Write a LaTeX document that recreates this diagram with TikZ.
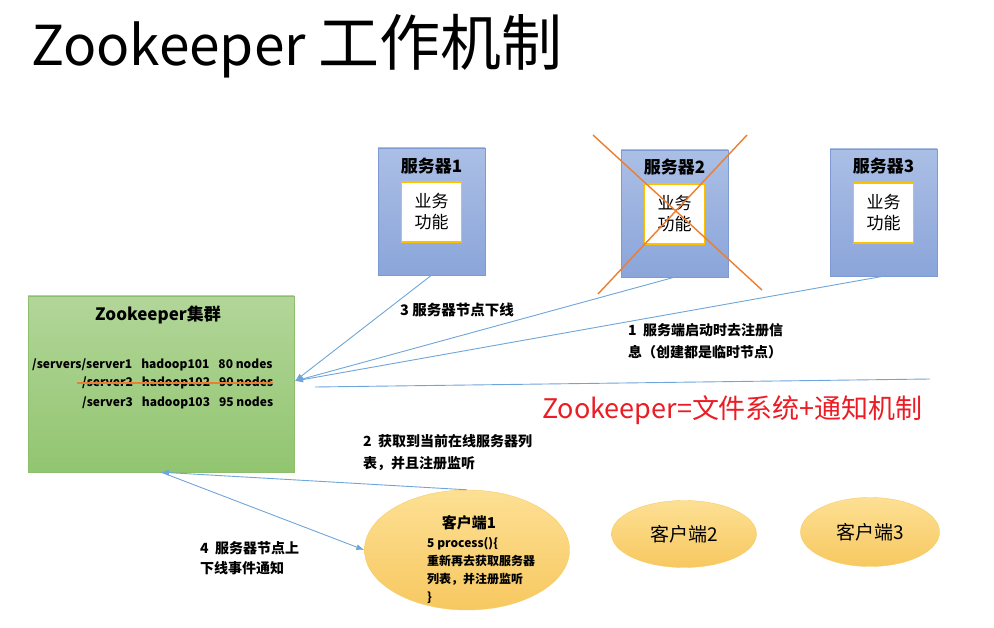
\documentclass[tikz,border=0pt]{standalone}
\usepackage{fontspec}
\setmainfont{Noto Sans CJK SC}
\usetikzlibrary{shapes.geometric,arrows.meta}
\definecolor{srvtop}{RGB}{171,191,229}
\definecolor{srvbot}{RGB}{139,165,218}
\definecolor{srvline}{RGB}{125,154,210}
\definecolor{bizline}{RGB}{255,192,0}
\definecolor{zktop}{RGB}{178,214,153}
\definecolor{zkbot}{RGB}{146,197,112}
\definecolor{zkline}{RGB}{140,190,110}
\definecolor{cltop}{RGB}{253,224,148}
\definecolor{clbot}{RGB}{247,200,96}
\definecolor{clline}{RGB}{247,204,100}
\definecolor{linkblue}{RGB}{110,165,218}
\definecolor{crossorange}{RGB}{237,125,49}
\definecolor{notered}{RGB}{235,28,36}
\begin{document}
\begin{tikzpicture}
[x=1pt,y=-1pt,
srv/.style={draw=srvline,top color=srvtop,bottom color=srvbot,minimum width=107pt,minimum height=127pt,inner sep=0pt},
srvtitle/.style={font=\bfseries\fontsize{17}{20}\selectfont,inner sep=0pt},
biz/.style={draw=bizline,line width=1.2pt,fill=white,minimum width=60pt,minimum height=60pt,inner sep=0pt,align=center,font=\fontsize{17}{21}\selectfont},
zkbox/.style={draw=zkline,top color=zktop,bottom color=zkbot,minimum width=266pt,minimum height=176pt,inner sep=0pt},
zkpath/.style={font=\bfseries\fontsize{12}{14}\selectfont,anchor=west,inner sep=0pt},
client/.style={ellipse,draw=clline,top color=cltop,bottom color=clbot,inner sep=0pt},
lbl/.style={font=\bfseries\fontsize{14}{22}\selectfont,align=left,anchor=west,inner sep=0pt},
link/.style={draw=linkblue,line width=0.9pt},
arr/.style={link,-{Latex[length=8pt,width=6pt]}},
cross/.style={draw=crossorange,line width=1.4pt}]
\useasboundingbox (0,0) rectangle (994,628);
\node[anchor=base west,inner sep=0pt,font=\fontsize{55}{60}\selectfont] (title) at (31,66) {Zookeeper {\fontsize{61}{64}\selectfont 工作机制}};

\node[zkbox] (zk) at (161,384) {};
\node[font=\bfseries\fontsize{17}{20}\selectfont] (zkt) at (158,315) {Zookeeper集群};
\node[zkpath] (zl1) at (32,365) {/servers/server1\hspace{9pt}hadoop101\hspace{9pt}80 nodes};
\node[zkpath] (zl2) at (82,383) {/server2\hspace{9pt}hadoop102\hspace{9pt}90 nodes};
\node[zkpath] (zl3) at (82,403) {/server3\hspace{9pt}hadoop103\hspace{9pt}95 nodes};
\draw[cross,line width=1.2pt] (77,383) -- (273,383);

\node[srv] (s1) at (431.5,211.5) {};
\node[srvtitle] (s1t) at (431.5,166) {服务器1};
\node[biz] (b1) at (431.5,212) {业务\\功能};
\node[srv] (s2) at (674.5,213.5) {};
\node[srvtitle] (s2t) at (674.5,167) {服务器2};
\node[biz] (b2) at (674.5,214) {业务\\功能};
\node[srv] (s3) at (883.5,212.5) {};
\node[srvtitle] (s3t) at (883.5,166) {服务器3};
\node[biz] (b3) at (883.5,213) {业务\\功能};
\draw[cross] (593,135) -- (762,290);
\draw[cross] (747,135) -- (598,294);

\node[client,minimum width=205pt,minimum height=120pt] (c1) at (467,550) {};
\node[font=\bfseries\fontsize{15}{18}\selectfont] (c1t) at (469,523) {客户端1};
\node[font=\bfseries\fontsize{12}{18}\selectfont,align=left,anchor=west,inner sep=0pt] (c1p) at (427,570.5) {5 process()\{\\重新再去获取服务器\\列表，并注册监听\\\}};
\node[client,minimum width=145pt,minimum height=67pt,font=\fontsize{19}{22}\selectfont] (c2) at (684,534) {客户端2};
\node[client,minimum width=139pt,minimum height=69pt,font=\fontsize{19}{22}\selectfont] (c3) at (870,532) {客户端3};

\coordinate (zin) at (295,381);
\coordinate (regl) at (315,387);
\coordinate (regr) at (930,379);
\draw[arr] (s1.south) -- (zin);
\draw[arr] (s2.south) -- (zin);
\draw[arr] (s3.south) -- (zin);
\draw[link] (regr) -- (regl);
\draw[arr] (c1.north) -- (zk.south);
\draw[arr] (zk.south) -- (c1.west);

\node[lbl,font=\bfseries\fontsize{14.5}{22}\selectfont] (lab3) at (400,310) {3 服务器节点下线};
\node[lbl] (lab1) at (628,341) {1\ \ 服务端启动时去注册信\\息（创建都是临时节点）};
\node[anchor=west,inner sep=0pt,text=notered,font=\fontsize{27}{30}\selectfont] (note) at (542,410) {Zookeeper=文件系统+通知机制};
\node[lbl] (lab2) at (363,453) {2\ \ 获取到当前在线服务器列\\表，并且注册监听};
\node[lbl,font=\bfseries\fontsize{14}{20}\selectfont] (lab4) at (200,558) {4\ \ 服务器节点上\\下线事件通知};
\end{tikzpicture}
\end{document}
